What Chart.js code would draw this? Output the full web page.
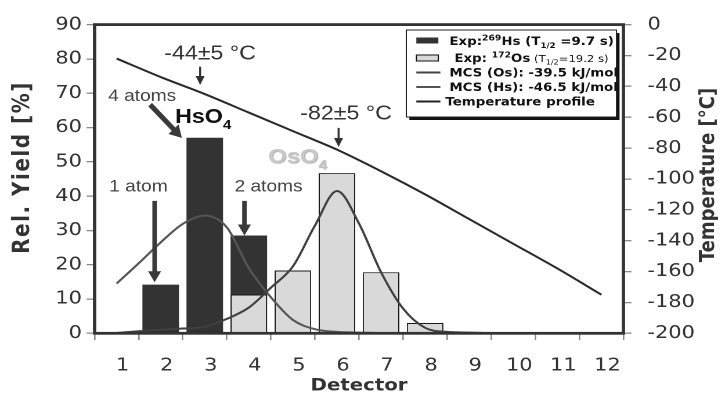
<!DOCTYPE html>
<html><head><meta charset="utf-8">
<script src="https://cdn.jsdelivr.net/npm/chart.js@4/dist/chart.umd.min.js"></script>
<style>
html,body{margin:0;padding:0;background:#fff;overflow:hidden;width:721px;height:398px;}
#wrap{position:absolute;left:0;top:0;height:398px;transform-origin:0 0;}
</style></head><body>
<div id="wrap"><canvas id="c"></canvas></div>
<script>
// ---------- data ----------
const detectors = ['1','2','3','4','5','6','7','8','9','10','11','12'];
const hsYield = [null, 14.2, 57.0, 28.5, null, null, null, null, null, null, null, null];
const osYield = [null, 0.5, 0.5, 11.3, 18.3, 46.7, 17.8, 3.0, null, null, null, null];
const osMcsDetector = [1, 1.5, 2, 2.5, 3, 3.5, 4, 4.5, 5, 5.5, 6, 6.5, 7, 7.5, 8, 8.5, 9, 9.4];
const osMcsYield    = [0.1, 0.6, 1.0, 1.4, 1.9, 4.2, 7.5, 13.3, 19.5, 31.4, 41.5, 32.0, 17.8, 7.2, 1.6, 0.4, 0.2, 0.1];
const hsMcsDetector = [1, 1.5, 2, 2.5, 3, 3.5, 4, 4.5, 5, 5.5, 6, 6.5, 7, 8];
const hsMcsYield    = [14.5, 20.4, 26.5, 31.9, 34.3, 30.9, 19.0, 10.5, 3.9, 1.2, 0.4, 0.2, 0.1, 0.1];
const tempDetector  = [1, 2, 3, 4, 5, 6, 7, 8, 9, 10, 11, 12];
const tempCelsius   = [-22, -34, -45, -57, -69, -81, -95, -110, -126, -142, -158, -175];
const yieldTicks = [0, 10, 20, 30, 40, 50, 60, 70, 80, 90];
const tempTicks  = [0, -20, -40, -60, -80, -100, -120, -140, -160, -180, -200];

// ---------- layout ----------
const S = 1.16;               // the reference is horizontally stretched
const W = 721 / S;
document.getElementById('wrap').style.width = W + 'px';
document.getElementById('wrap').style.transform = 'scaleX(' + S + ')';
const FONT = 'DejaVu Sans';
const AFONT = 'Liberation Sans';
const INK = '#333333';

function pts(xs, ys) { return xs.map((x, i) => ({x: x, y: ys[i]})); }

function drawRich(ctx, x, y, segs) {
  ctx.save();
  ctx.textBaseline = 'alphabetic';
  ctx.textAlign = 'left';
  for (const s of segs) {
    ctx.font = s.f;
    ctx.fillStyle = s.c || '#111';
    ctx.fillText(s.t, x, y + (s.dy || 0));
    x += ctx.measureText(s.t).width;
  }
  ctx.restore();
}

function arrow(ctx, x1, y1, x2, y2, w, hw, hl, color) {
  ctx.save();
  ctx.scale(1 / S, 1);
  x1 *= S; x2 *= S;
  const ang = Math.atan2(y2 - y1, x2 - x1);
  const len = Math.hypot(x2 - x1, y2 - y1);
  ctx.translate(x1, y1); ctx.rotate(ang);
  ctx.fillStyle = color;
  ctx.beginPath();
  ctx.moveTo(0, -w / 2); ctx.lineTo(len - hl, -w / 2); ctx.lineTo(len - hl, -hw / 2);
  ctx.lineTo(len, 0); ctx.lineTo(len - hl, hw / 2); ctx.lineTo(len - hl, w / 2);
  ctx.lineTo(0, w / 2); ctx.closePath(); ctx.fill();
  ctx.restore();
}

function verticalTitle(ctx, text, x, y, font, spacing) {
  ctx.save();
  ctx.translate(x, y);
  ctx.rotate(-Math.PI / 2);
  ctx.font = font;
  ctx.letterSpacing = spacing;
  ctx.fillStyle = INK;
  ctx.textAlign = 'center';
  ctx.textBaseline = 'middle';
  ctx.fillText(text, 0, 0);
  ctx.restore();
}

const framePlugin = {
  id: 'frame',
  afterDatasetsDraw(chart) {
    const {ctx, chartArea: a} = chart;
    ctx.save();
    ctx.strokeStyle = INK;
    ctx.lineWidth = 2.8;
    ctx.strokeRect(a.left, a.top, a.right - a.left, a.bottom - a.top);
    ctx.restore();
  }
};

const annotationPlugin = {
  id: 'notes',
  afterDraw(chart) {
    const ctx = chart.ctx;
    const X = v => chart.scales.xl.getPixelForValue(v);
    const Y = v => chart.scales.y.getPixelForValue(v);
    // axis titles (both read bottom-to-top)
    verticalTitle(ctx, 'Rel. Yield [%]', 23 / S, 167.5, 'bold 20px ' + FONT, '1.5px');
    verticalTitle(ctx, 'Temperature [\u00B0C]', 708 / S, 175, 'bold 18px ' + FONT, '0px');

    ctx.save();
    ctx.textAlign = 'center';
    ctx.textBaseline = 'middle';
    // temperature notes
    ctx.fillStyle = INK;
    ctx.font = '20px ' + AFONT;
    ctx.fillText('-44\u00B15 \u00B0C', X(3.12), Y(81.4));
    ctx.fillText('-82\u00B15 \u00B0C', X(6.206), Y(64.0));
    arrow(ctx, X(2.895), Y(77.7), X(2.895), Y(72.4), 2, 9, 9, INK);
    arrow(ctx, X(6.036), Y(59.9), X(6.036), Y(54.3), 2, 9, 9, INK);
    // atom notes
    ctx.fillStyle = '#444';
    ctx.font = '16.5px ' + AFONT;
    ctx.fillText('4 atoms', X(1.579), Y(69.1));
    ctx.fillText('1 atom', X(1.495), Y(42.7));
    ctx.fillText('2 atoms', X(4.447), Y(42.7));
    arrow(ctx, X(1.76), Y(66.66), X(2.48), Y(56.97), 5, 14, 12, '#3a3a3a');
    arrow(ctx, X(1.862), Y(38.6), X(1.862), Y(14.9), 4.5, 13, 11, '#3a3a3a');
    arrow(ctx, X(3.90), Y(38.6), X(3.90), Y(28.5), 4.5, 13, 11, '#3a3a3a');
    ctx.restore();
    // molecule labels
    drawRich(ctx, X(2.328), Y(61.3), [
      {t: 'HsO', f: 'bold 20px ' + AFONT, c: '#111'},
      {t: '4', f: 'bold 13px ' + AFONT, c: '#111', dy: 6}
    ]);
    ctx.save();
    ctx.shadowColor = 'rgba(0,0,0,0.45)';
    ctx.shadowBlur = 2; ctx.shadowOffsetX = 1; ctx.shadowOffsetY = 1;
    drawRich(ctx, X(4.44), Y(49.7), [
      {t: 'OsO', f: 'bold 20.5px ' + AFONT, c: '#c8c8c8'},
      {t: '4', f: 'bold 13px ' + AFONT, c: '#c8c8c8', dy: 6}
    ]);
    ctx.restore();
  }
};

const legendPlugin = {
  id: 'customLegend',
  afterDraw(chart) {
    const ctx = chart.ctx;
    const L = 406 / S, R = 616 / S, T = 30, B = 117;
    ctx.save();
    // shadow
    ctx.fillStyle = '#111';
    ctx.fillRect(L + 3 / S, T + 3, R - L, B - T);
    ctx.fillStyle = '#fff';
    ctx.fillRect(L, T, R - L, B - T);
    ctx.strokeStyle = '#222';
    ctx.lineWidth = 1;
    ctx.strokeRect(L, T, R - L, B - T);
    const sx1 = 416 / S, sx2 = 438 / S;
    const bold = s => 'bold ' + s + 'px ' + FONT;
    const reg = s => s + 'px ' + FONT;
    // row 1
    ctx.fillStyle = '#333';
    ctx.fillRect(sx1, 37.5, sx2 - sx1, 6);
    drawRich(ctx, 449 / S, 45, [
      {t: 'Exp:', f: bold(11.5)}, {t: '269', f: bold(8), dy: -4.5},
      {t: 'Hs (T', f: bold(11.5)}, {t: '1/2', f: bold(7.5), dy: 3},
      {t: ' =9.7 s)', f: bold(11.5)}
    ]);
    // row 2
    ctx.fillStyle = '#d9d9d9';
    ctx.fillRect(sx1, 55, sx2 - sx1, 6);
    ctx.strokeStyle = '#111';
    ctx.strokeRect(sx1, 55, sx2 - sx1, 6);
    drawRich(ctx, 454 / S, 62, [
      {t: 'Exp: ', f: bold(11.5)}, {t: '172', f: bold(8), dy: -4.5},
      {t: 'Os', f: bold(11.5)}, {t: ' (T', f: reg(10)},
      {t: '1/2', f: reg(7), dy: 2.5}, {t: '=19.2 s)', f: reg(10)}
    ]);
    // rows 3-5 (lines)
    const rows = [[72.5, 'MCS (Os): -39.5 kJ/mol', 449], [87, 'MCS (Hs): -46.5 kJ/mol', 449], [101.5, 'Temperature profile', 445]];
    const cols = ['#444', '#555', '#222'];
    rows.forEach((r, i) => {
      ctx.strokeStyle = cols[i];
      ctx.lineWidth = 2;
      ctx.beginPath(); ctx.moveTo(sx1, r[0]); ctx.lineTo(440 / S, r[0]); ctx.stroke();
      drawRich(ctx, r[2] / S, r[0] + 4.2, [{t: r[1], f: bold(11.5)}]);
    });
    ctx.restore();
  }
};

const tickGrid = (len) => ({drawOnChartArea: false, drawTicks: true, tickLength: len, color: '#8a8a8a', lineWidth: 1.3});

new Chart(document.getElementById('c'), {
  data: {
    labels: detectors,
    datasets: [
      {type: 'line', label: 'MCS (Os): -39.5 kJ/mol', data: pts(osMcsDetector, osMcsYield), xAxisID: 'xl', yAxisID: 'y',
       borderColor: '#404040', borderWidth: 2, pointRadius: 0, cubicInterpolationMode: 'monotone', order: 0},
      {type: 'line', label: 'MCS (Hs): -46.5 kJ/mol', data: pts(hsMcsDetector, hsMcsYield), xAxisID: 'xl', yAxisID: 'y',
       borderColor: '#555555', borderWidth: 2, pointRadius: 0, cubicInterpolationMode: 'monotone', order: 0},
      {type: 'line', label: 'Temperature profile', data: pts(tempDetector, tempCelsius), xAxisID: 'xl', yAxisID: 'y2',
       borderColor: '#2a2a2a', borderWidth: 2, pointRadius: 0, cubicInterpolationMode: 'monotone', order: 0},
      {type: 'bar', label: 'Exp: 172Os', data: osYield, xAxisID: 'x', yAxisID: 'y', grouped: false,
       backgroundColor: '#d9d9d9', borderColor: '#1a1a1a', borderWidth: 1, barPercentage: 0.83, categoryPercentage: 1, order: 1},
      {type: 'bar', label: 'Exp: 269Hs', data: hsYield, xAxisID: 'x', yAxisID: 'y', grouped: false,
       backgroundColor: '#333333', borderWidth: 0, barPercentage: 0.83, categoryPercentage: 1, order: 2}
    ]
  },
  options: {
    responsive: true,
    maintainAspectRatio: false,
    devicePixelRatio: 2,
    animation: false,
    layout: {padding: {top: 22.7, left: 0, right: 0, bottom: 0}},
    plugins: {legend: {display: false}, tooltip: {enabled: false}},
    scales: {
      x: {
        type: 'category', position: 'bottom', offset: true,
        grid: Object.assign(tickGrid(6.7), {offset: true}),
        border: {display: false},
        ticks: {font: {family: FONT, size: 18}, color: INK, padding: 15, labelOffset: 6 / S, maxRotation: 0, autoSkip: false},
        title: {display: true, text: 'Detector', font: {family: FONT, size: 17, weight: 'bold'}, color: INK, padding: {top: 0, bottom: 1.8}},
        afterFit: s => { s.height = 64.7; }
      },
      xl: {type: 'linear', display: false, min: 0.5, max: 12.5},
      y: {
        position: 'left', min: 0, max: 90,
        grid: tickGrid(8 / S), border: {display: false},
        ticks: {font: {family: FONT, size: 18}, color: INK, padding: 4},
        afterBuildTicks: s => { s.ticks = yieldTicks.map(v => ({value: v})); },
        afterFit: s => { s.width = 94.5 / S; }
      },
      y2: {
        position: 'right', min: -200, max: 0,
        grid: tickGrid(8 / S), border: {display: false},
        ticks: {font: {family: FONT, size: 18}, color: INK, padding: 13.8},
        afterBuildTicks: s => { s.ticks = tempTicks.map(v => ({value: v})); },
        afterFit: s => { s.width = 98 / S; }
      }
    }
  },
  plugins: [framePlugin, annotationPlugin, legendPlugin]
});
</script>
</body></html>
